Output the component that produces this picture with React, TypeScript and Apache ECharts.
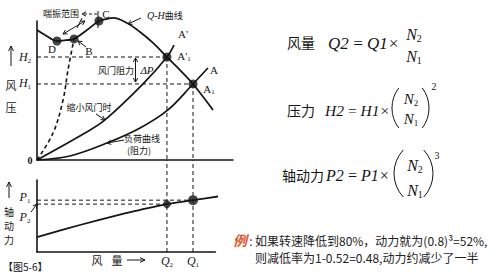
import React, { useEffect, useRef } from "react";
import * as echarts from "echarts";

// ---- data (Q: air volume, H: pressure, P: shaft power; arbitrary units) ----
const QH_CURVE: [number, number][] = [
  [0, 93.5], [4.1, 89.9], [10.2, 85.6], [14.8, 86.2], [18.9, 87.1], [25.5, 93.5],
  [31.6, 100], [35.2, 101.4], [38.8, 102.2], [45.9, 98.6], [52.6, 92.1], [59.2, 84.2],
  [66.3, 74.1], [73, 64.7], [79.6, 54.7], [89.8, 36],
];
const THROTTLE_CURVE: [number, number][] = [
  [0, 0], [24.5, 19.4], [34.7, 28.8], [54.1, 54.7], [66.3, 74.1], [69.9, 82.7],
];
const LOAD_CURVE: [number, number][] = [
  [0, 0], [16.8, 2.9], [35.7, 12.2], [52.6, 23], [66.8, 36], [79.6, 54.7], [87.2, 66.2],
];
const SURGE_CURVE: [number, number][] = [
  [0, 0], [8.2, 19.4], [13.3, 43.2], [15.8, 64.7], [18.9, 87.1],
];
const POWER_CURVE: [number, number][] = [
  [0, 20.8], [21.9, 37.5], [42.3, 52], [52.6, 58.5], [66.3, 66.5], [79.6, 72], [95.9, 78.5],
];
const Q1 = 79.6;
const Q2 = 66.3;
const H1 = 54.7;
const H2 = 74.1;
const P1 = 72;
const P2 = 66.5;
const UPPER_POINTS: [number, number][] = [[10.2, 85.6], [18.9, 87.1], [31.6, 100], [Q2, H2], [Q1, H1]];
const LOWER_POINTS: [number, number][] = [[Q2, P2], [Q1, P1]];

// ---- layout ----
const G1 = { left: 37, top: 21, width: 196, height: 139 };
const G2 = { left: 37, top: 180, width: 178.4, height: 72 };
const X2MAX = (100 * G2.width) / G1.width;
const GAP_P = 100 + ((G2.top - (G1.top + G1.height)) / G2.height) * 100;

const INK = "#151515";
const SERIF = '"Liberation Serif", "DejaVu Serif", serif';
const CJK = '"Noto Sans CJK SC", sans-serif';
const TS = "\u2009";

function txt(text: string, x: number, y: number, font: string, o: any = {}) {
  const align = o.align || "center";
  const va = o.va || "middle";
  return {
    type: "text",
    x,
    y,
    silent: true,
    z: 10,
    style: {
      text,
      font,
      fill: o.fill || INK,
      align,
      verticalAlign: va,
      textAlign: align,
      textVerticalAlign: va,
      rich: o.rich,
    },
  };
}

function sub(main: string, s: string, x: number, y: number, size: number, o: any = {}) {
  const style = o.italic === false ? "normal" : "italic";
  return txt(`{m|${main}}{s|${s}}`, x, y, `${style} ${size}px ${SERIF}`, {
    align: o.align || "center",
    rich: {
      m: { fontFamily: SERIF, fontStyle: style, fontSize: size, lineHeight: size + 2, fill: INK },
      s: { fontFamily: SERIF, fontStyle: "normal", fontSize: Math.round(size * 0.6), verticalAlign: "bottom", lineHeight: size + 2, fill: INK },
    },
  });
}

function head(tx: number, ty: number, fx: number, fy: number, len = 5, half = 2.6) {
  const dx = tx - fx;
  const dy = ty - fy;
  const L = Math.hypot(dx, dy) || 1;
  const ux = dx / L;
  const uy = dy / L;
  const bx = tx - ux * len;
  const by = ty - uy * len;
  return {
    type: "polyline",
    silent: true,
    z: 10,
    shape: { points: [[bx - uy * half, by + ux * half], [tx, ty], [bx + uy * half, by - ux * half]] },
    style: { stroke: INK, lineWidth: 1, fill: null },
  };
}

function arrow(x1: number, y1: number, x2: number, y2: number, o: any = {}) {
  const els: any[] = [
    {
      type: "line",
      silent: true,
      z: 10,
      shape: { x1, y1, x2, y2 },
      style: { stroke: INK, lineWidth: o.w || 1, lineDash: o.dashed ? [3, 2] : null },
    },
    head(x2, y2, x1, y1, o.len, o.half),
  ];
  if (o.both) els.push(head(x1, y1, x2, y2, o.len, o.half));
  return els;
}

function paren(cx: number, cy: number, r: number, th: number, left: boolean) {
  return {
    type: "arc",
    silent: true,
    z: 10,
    shape: left
      ? { cx, cy, r, startAngle: Math.PI - th, endAngle: Math.PI + th, clockwise: true }
      : { cx, cy, r, startAngle: -th, endAngle: th, clockwise: true },
    style: { stroke: INK, lineWidth: 1, fill: null },
  };
}

function lineSeries(data: [number, number][], idx: number, o: any = {}) {
  return {
    type: "line",
    xAxisIndex: idx,
    yAxisIndex: idx,
    data,
    symbol: "none",
    showSymbol: false,
    clip: false,
    silent: true,
    smooth: o.smooth ?? false,
    z: o.z ?? 3,
    lineStyle: { color: INK, width: o.width ?? 1.6, type: o.dashed ? [4, 3] : "solid" },
  };
}

function axisX(idx: number, max: number) {
  return {
    type: "value",
    gridIndex: idx,
    min: 0,
    max,
    axisLine: { show: true, onZero: false, lineStyle: { color: INK, width: 1.6 } },
    axisTick: { show: false },
    axisLabel: { show: false },
    splitLine: { show: false },
  };
}
function axisY(idx: number) {
  return {
    type: "value",
    gridIndex: idx,
    min: 0,
    max: 100,
    axisLine: { show: true, onZero: false, lineStyle: { color: INK, width: 1.6 } },
    axisTick: { show: false },
    axisLabel: { show: false },
    splitLine: { show: false },
  };
}

const CJK9 = `9px ${CJK}`;
const CJK10 = `10px ${CJK}`;
const CJK11 = `11px ${CJK}`;
const SER11 = `11px ${SERIF}`;
const FORM = `italic 17px ${SERIF}`;

const graphics: any[] = [
  // upper axis labels
  ...arrow(11, 66, 11, 46, { len: 5, half: 2.5 }),
  txt("风", 11, 85, CJK11),
  txt("压", 11, 107, CJK11),
  sub("H", "2", 25, 57, 12),
  sub("H", "1", 25, 83, 12),
  txt("0", 30, 160, `bold 10px ${SERIF}`),
  // surge annotations
  txt("喘振范围", 61, 13, CJK9),
  ...arrow(97, 14, 82, 14, { dashed: true, len: 4, half: 2.2 }),
  { type: "line", silent: true, z: 10, shape: { x1: 98, y1: 11, x2: 98, y2: 28 }, style: { stroke: INK, lineWidth: 1 } },
  txt("C", 106, 14, SER11),
  txt("{i|Q-H}{c|曲线}", 147, 15, `italic 10px ${SERIF}`, {
    align: "left",
    rich: { i: { fontFamily: SERIF, fontStyle: "italic", fontSize: 10, fill: INK }, c: { fontFamily: CJK, fontSize: 9, fill: INK } },
  }),
  ...arrow(141, 18, 128, 24, { len: 4, half: 2.2 }),
  ...arrow(63, 34, 85, 21, { both: true, len: 4, half: 2.2 }),
  { type: "line", silent: true, z: 10, shape: { x1: 77, y1: 28, x2: 82, y2: 18 }, style: { stroke: INK, lineWidth: 1 } },
  txt("D", 52, 49, SER11),
  txt("B", 89, 51, SER11),
  ...arrow(86, 47, 78, 41, { len: 4, half: 2.2 }),
  txt("A'", 183, 34, SER11),
  sub("A'", "1", 184, 56, 11, { italic: false }),
  txt("A", 214, 70, SER11),
  sub("A", "1", 209, 89, 11, { italic: false }),
  txt("风门阻力", 116, 70, CJK9),
  ...arrow(135.5, 70, 135.5, 58, { len: 4, half: 2.2 }),
  ...arrow(135.5, 70, 135.5, 82, { len: 4, half: 2.2 }),
  txt("ΔP", 147, 70, `italic 11px ${SERIF}`),
  txt("缩小风门时", 89, 107, CJK9),
  ...arrow(96, 114, 105, 120, { len: 4, half: 2.2 }),
  txt("负荷曲线", 142, 138, CJK9),
  txt("(阻力)", 139, 150, CJK9),
  ...arrow(124, 140, 107, 143, { len: 4, half: 2.2 }),
  // lower axis labels
  ...arrow(9, 198, 9, 182, { len: 5, half: 2.5 }),
  txt("轴", 9, 211, CJK10),
  txt("动", 9, 225, CJK10),
  txt("力", 9, 239, CJK10),
  sub("P", "1", 25, 197, 12),
  sub("P", "2", 25, 217, 12),
  ...arrow(31, 212, 37, 204, { len: 4, half: 2.2 }),
  txt("风", 97, 260, CJK11),
  txt("量", 117, 260, CJK11),
  ...arrow(127, 260, 145, 260, { len: 5, half: 2.4 }),
  sub("Q", "2", 167, 261, 12),
  sub("Q", "1", 193, 261, 12),
  txt("【图5-6】", 3, 266, `10px ${CJK}`, { align: "left" }),
  // formulas
  txt("风量", 301, 42, `14px ${CJK}`),
  txt(`Q2${TS}=${TS}Q1×`, 328, 43, FORM, { align: "left" }),
  sub("N", "2", 414, 34, 16),
  sub("N", "1", 414, 56, 16),
  txt("压力", 301, 110, `14px ${CJK}`),
  txt(`H2${TS}=${TS}H1×`, 325, 110, `italic 15.5px ${SERIF}`, { align: "left" }),
  paren(425, 108, 33, 0.65, true),
  sub("N", "2", 411, 99, 15),
  sub("N", "1", 411, 119, 15),
  paren(396, 108, 33, 0.65, false),
  txt("2", 434, 86, `10px ${SERIF}`),
  txt("轴动力", 303, 175, `14px ${CJK}`),
  txt(`P2${TS}=${TS}P1×`, 326, 175, `italic 16px ${SERIF}`, { align: "left" }),
  paren(428.5, 173.5, 34.5, 0.75, true),
  sub("N", "2", 415, 165, 16),
  sub("N", "1", 415, 190, 16),
  paren(398.5, 173.5, 34.5, 0.75, false),
  txt("3", 437, 155, `10px ${SERIF}`),
  // example text
  txt("例", 240, 240, `italic bold 14px ${CJK}`, { fill: "#e0552b" }),
  txt(":", 251, 240, `12px ${CJK}`, { fill: "#444" }),
  txt("如果转速降低到80%，动力就为(0.8)³=52%,", 255, 240, `12px ${CJK}`, { align: "left", fill: "#222" }),
  txt("则减低率为1-0.52=0.48,动力约减少了一半", 255, 257, `12px ${CJK}`, { align: "left", fill: "#222" }),
];

const option: any = {
  animation: false,
  backgroundColor: "#ffffff",
  grid: [
    { ...G1, containLabel: false },
    { ...G2, containLabel: false },
  ],
  xAxis: [axisX(0, 100), axisX(1, X2MAX)],
  yAxis: [axisY(0), axisY(1)],
  series: [
    lineSeries(QH_CURVE, 0, { smooth: 0.35, width: 1.8 }),
    lineSeries(THROTTLE_CURVE, 0, { smooth: 0.35, width: 1.7 }),
    lineSeries(LOAD_CURVE, 0, { smooth: 0.35, width: 1.7 }),
    lineSeries(SURGE_CURVE, 0, { smooth: 0.35, width: 1.6, dashed: true }),
    lineSeries([[0, H2], [Q2, H2]], 0, { width: 1, dashed: true }),
    lineSeries([[0, H1], [Q1, H1]], 0, { width: 1, dashed: true }),
    lineSeries([[Q2, H2], [Q2, 0]], 0, { width: 1, dashed: true }),
    lineSeries([[Q1, H1], [Q1, 0]], 0, { width: 1, dashed: true }),
    {
      type: "scatter",
      xAxisIndex: 0,
      yAxisIndex: 0,
      data: UPPER_POINTS,
      symbolSize: 9,
      itemStyle: { color: INK },
      silent: true,
      z: 5,
    },
    lineSeries(POWER_CURVE, 1, { smooth: 0.35, width: 1.8 }),
    lineSeries([[0, P1], [Q1, P1]], 1, { width: 1, dashed: true }),
    lineSeries([[0, P2], [Q2, P2]], 1, { width: 1, dashed: true }),
    lineSeries([[Q2, 0], [Q2, GAP_P]], 1, { width: 1, dashed: true }),
    lineSeries([[Q1, 0], [Q1, GAP_P]], 1, { width: 1, dashed: true }),
    {
      type: "scatter",
      xAxisIndex: 1,
      yAxisIndex: 1,
      data: LOWER_POINTS,
      symbolSize: (v: number[]) => (v[0] === Q1 ? 10 : 8),
      itemStyle: { color: INK },
      silent: true,
      z: 5,
    },
  ],
  graphic: { elements: graphics },
};

export default function App() {
  const ref = useRef<HTMLDivElement>(null);
  useEffect(() => {
    if (!ref.current) return;
    const chart = echarts.init(ref.current, null, { renderer: "svg" });
    chart.setOption(option);
    return () => chart.dispose();
  }, []);
  return (
    <div
      ref={ref}
      style={{ position: "fixed", left: 0, top: 0, width: 500, height: 274, background: "#fff" }}
    />
  );
}
